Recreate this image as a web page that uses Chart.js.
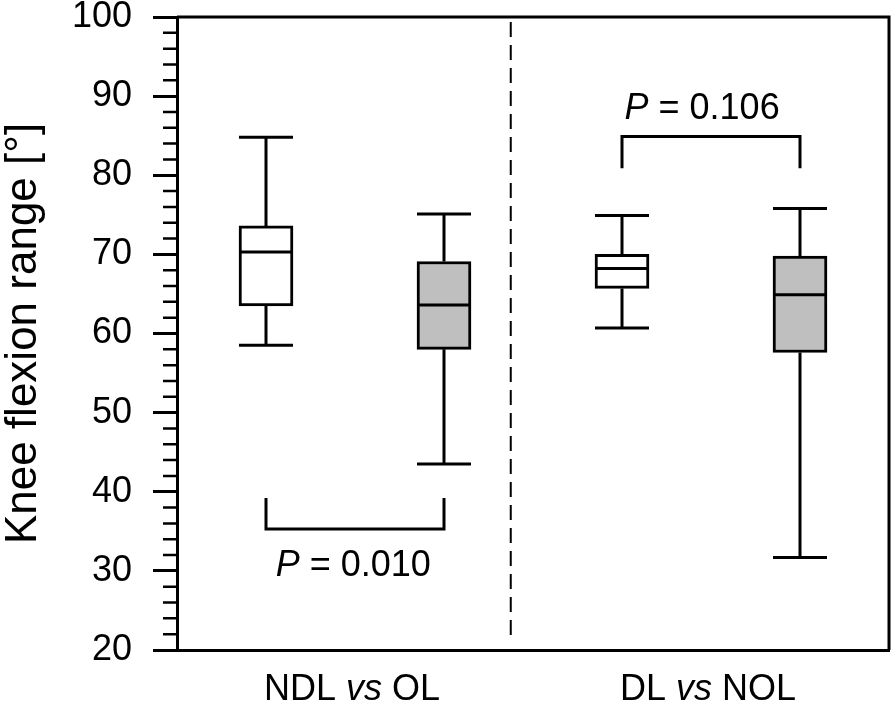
<!DOCTYPE html>
<html>
<head>
<meta charset="utf-8">
<script src="https://cdn.jsdelivr.net/npm/chart.js@4.4.1/dist/chart.umd.min.js"></script>
<style>
  html, body { margin:0; padding:0; background:#fff; }
  #wrap { width:892px; height:704px; }
</style>
</head>
<body>
<div id="wrap"><canvas id="kneeChart"></canvas></div>
<script>
// ===== DATA =====
const groups     = ['NDL', 'OL', 'DL', 'NOL'];
const whiskerMax = [84.8, 75.1, 74.9, 75.8];
const q3         = [73.6, 69.1, 70.0, 69.8];
const median     = [70.3, 63.6, 68.2, 64.9];
const q1         = [63.5, 58.0, 65.7, 57.6];
const whiskerMin = [58.5, 43.5, 60.7, 31.7];
const boxFill    = ['#ffffff', '#bfbfbf', '#ffffff', '#bfbfbf'];

// comparisons: pair of groups, bracket bar level, leg end, p text baseline
const pairs      = [[0, 1], [2, 3]];
const pairNames  = [['NDL ', 'vs', ' OL'], ['DL ', 'vs', ' NOL']];
const pValues    = ['0.010', '0.106'];
const bracketBar = [35.3, 84.9];
const bracketLeg = [39.2, 80.9];
const pTextAt    = [29.4, 87.1];
const pTextX     = [0.49, 2.45];
const dividerAt  = 1.375;

const FONT = "'Liberation Sans', Arial, sans-serif";
Chart.defaults.font.family = FONT;

// ===== HELPERS =====
function drawMixed(ctx, parts, cx, y, size){
  let total = 0;
  const widths = parts.map(p=>{
    ctx.font = (p.it ? 'italic ' : '') + size + 'px ' + FONT;
    const w = ctx.measureText(p.t).width;
    total += w;
    return w;
  });
  let x = cx - total/2;
  parts.forEach((p,i)=>{
    ctx.font = (p.it ? 'italic ' : '') + size + 'px ' + FONT;
    ctx.fillText(p.t, x, y);
    x += widths[i];
  });
}

// ===== BOX PLOT EXTRAS =====
const boxPlugin = {
  id:'boxExtras',
  afterDatasetsDraw(chart){
    const {ctx, chartArea:a, scales:{x, y}} = chart;
    const meta = chart.getDatasetMeta(0);
    ctx.save();
    ctx.strokeStyle = '#000';
    ctx.fillStyle = '#000';
    ctx.lineWidth = 3;
    ctx.lineCap = 'butt';

    // whiskers + medians
    meta.data.forEach((bar,i)=>{
      const cx = bar.x, hw = bar.width/2;
      const yMax = y.getPixelForValue(whiskerMax[i]);
      const yQ3 = y.getPixelForValue(q3[i]);
      const yQ1 = y.getPixelForValue(q1[i]);
      const yMin = y.getPixelForValue(whiskerMin[i]);
      const yMed = y.getPixelForValue(median[i]);
      ctx.beginPath();
      ctx.moveTo(cx, yQ3); ctx.lineTo(cx, yMax);
      ctx.moveTo(cx - hw, yMax); ctx.lineTo(cx + hw, yMax);
      ctx.moveTo(cx, yQ1); ctx.lineTo(cx, yMin);
      ctx.moveTo(cx - hw, yMin); ctx.lineTo(cx + hw, yMin);
      ctx.moveTo(cx - hw, yMed); ctx.lineTo(cx + hw, yMed);
      ctx.stroke();
    });

    // frame top & right
    ctx.beginPath();
    ctx.moveTo(a.left, a.top); ctx.lineTo(a.right, a.top); ctx.lineTo(a.right, a.bottom);
    ctx.stroke();

    // minor ticks
    ctx.lineWidth = 2.5;
    ctx.beginPath();
    for(let v = y.min + 2; v < y.max; v += 2){
      if(v % 10 === 0) continue;
      const py = y.getPixelForValue(v);
      ctx.moveTo(a.left - 14, py); ctx.lineTo(a.left, py);
    }
    ctx.stroke();

    // divider
    const dx = x.getPixelForValue(dividerAt);
    ctx.lineWidth = 2;
    ctx.setLineDash([15, 8]);
    ctx.beginPath();
    ctx.moveTo(dx, a.top + 5); ctx.lineTo(dx, a.bottom - 8);
    ctx.stroke();
    ctx.setLineDash([]);

    // brackets + p values
    ctx.lineWidth = 3;
    ctx.textBaseline = 'alphabetic';
    ctx.textAlign = 'left';
    pairs.forEach((p,i)=>{
      const x1 = meta.data[p[0]].x, x2 = meta.data[p[1]].x;
      const yb = y.getPixelForValue(bracketBar[i]);
      const yl = y.getPixelForValue(bracketLeg[i]);
      ctx.beginPath();
      ctx.moveTo(x1, yl); ctx.lineTo(x1, yb); ctx.lineTo(x2, yb); ctx.lineTo(x2, yl);
      ctx.stroke();
      drawMixed(ctx, [{t:'P', it:true}, {t:' = ' + pValues[i]}],
        x.getPixelForValue(pTextX[i]), y.getPixelForValue(pTextAt[i]), 36);
    });

    // category labels under x axis
    pairs.forEach((p,i)=>{
      const cx = x.getPixelForValue((p[0] + p[1])/2);
      const n = pairNames[i];
      drawMixed(ctx, [{t:n[0]}, {t:n[1], it:true}, {t:n[2]}], cx - 3, a.bottom + 50, 36);
    });

    ctx.restore();
  }
};

// ===== CHART =====
const chart = new Chart(document.getElementById('kneeChart'), {
  type:'bar',
  data:{
    labels: groups,
    datasets:[{
      data: q1.map((v,i)=>[v, q3[i]]),
      backgroundColor: boxFill,
      borderColor:'#000',
      borderWidth:3,
      borderSkipped:false,
      barThickness:54
    }]
  },
  options:{
    responsive:true,
    maintainAspectRatio:false,
    devicePixelRatio:1,
    animation:false,
    layout:{ padding:{ top:17, right:3, left:0, bottom:0 } },
    plugins:{ legend:{display:false}, tooltip:{enabled:false} },
    scales:{
      x:{
        grid:{ display:false },
        border:{ display:true, color:'#000', width:3 },
        ticks:{ display:false },
        afterFit:(s)=>{ s.height = 54; s.paddingLeft = 0; s.paddingRight = 0; }
      },
      y:{
        min:20, max:100,
        ticks:{ stepSize:10, color:'#000', font:{ size:36 }, padding:21 },
        grid:{ drawOnChartArea:false, drawTicks:true, tickLength:24, tickWidth:3, tickColor:'#000' },
        border:{ color:'#000', width:3 },
        title:{
          display:true,
          text:'Knee flexion range [°]',
          color:'#000',
          font:{ size:44, lineHeight:1 },
          padding:{ top:2, bottom:0 }
        },
        afterFit:(s)=>{ s.width = 177; s.paddingTop = 0; s.paddingBottom = 0; }
      }
    }
  },
  plugins:[boxPlugin]
});
</script>
</body>
</html>
